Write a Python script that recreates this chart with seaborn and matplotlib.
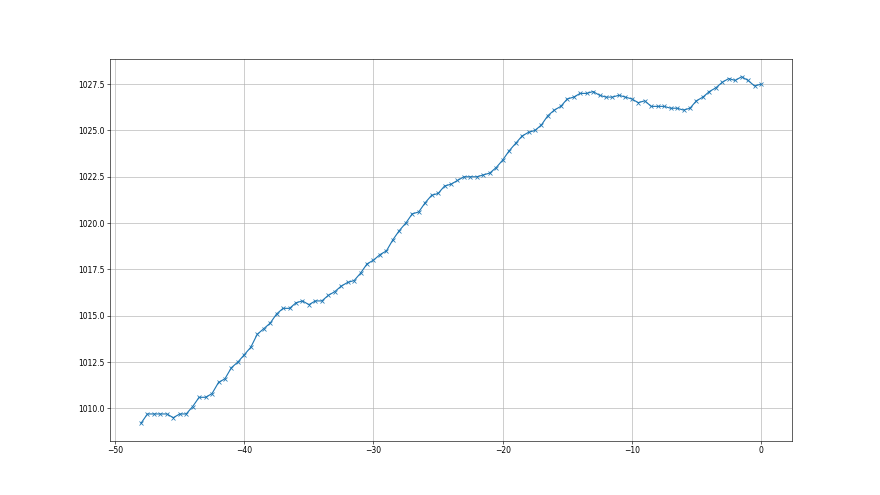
import numpy as np
import pandas as pd
import seaborn as sns
import matplotlib
matplotlib.use("Agg")
import matplotlib.pyplot as plt

# hours relative to now, half-hour steps
hours = np.arange(-48, 0.01, 0.5)

pressure = [
    1009.2, 1009.7, 1009.7, 1009.7, 1009.7, 1009.5, 1009.7, 1009.7,
    1010.1, 1010.6, 1010.6, 1010.8, 1011.4, 1011.6, 1012.2, 1012.5,
    1012.9, 1013.3, 1014.0, 1014.3, 1014.6, 1015.1, 1015.4, 1015.4,
    1015.7, 1015.8, 1015.6, 1015.8, 1015.8, 1016.1, 1016.3, 1016.6,
    1016.8, 1016.9, 1017.3, 1017.8, 1018.0, 1018.3, 1018.5, 1019.1,
    1019.6, 1020.0, 1020.5, 1020.6, 1021.1, 1021.5, 1021.6, 1022.0,
    1022.1, 1022.3, 1022.5, 1022.5, 1022.5, 1022.6, 1022.7, 1023.0,
    1023.4, 1023.9, 1024.3, 1024.7, 1024.9, 1025.0, 1025.3, 1025.8,
    1026.1, 1026.3, 1026.7, 1026.8, 1027.0, 1027.0, 1027.1, 1026.9,
    1026.8, 1026.8, 1026.9, 1026.8, 1026.7, 1026.5, 1026.6, 1026.3,
    1026.3, 1026.3, 1026.2, 1026.2, 1026.1, 1026.2, 1026.6, 1026.8,
    1027.1, 1027.3, 1027.6, 1027.8, 1027.7, 1027.9, 1027.7, 1027.4,
    1027.5,
]

df = pd.DataFrame({"hours": hours, "pressure": pressure})

fig, ax = plt.subplots(figsize=(16, 9), dpi=55)
sns.lineplot(data=df, x="hours", y="pressure", ax=ax, color="#1f77b4",
             marker="x", markersize=6, markeredgecolor="#1f77b4",
             markeredgewidth=1.0, linewidth=1.5)
ax.set_xlabel("")
ax.set_ylabel("")
ax.set_xticks([-50, -40, -30, -20, -10, 0])
ax.grid(True, color="#b0b0b0", linewidth=0.8)
ax.tick_params(labelsize=10)

plt.savefig("out.png", dpi=55)
